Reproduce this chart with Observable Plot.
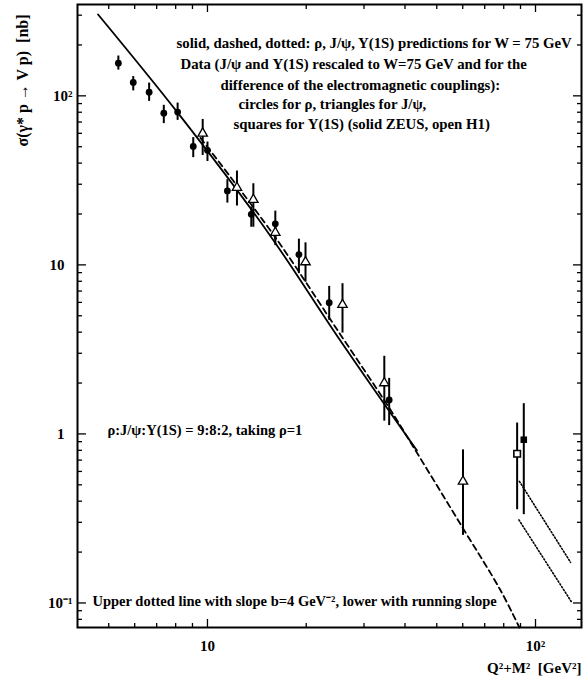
<!DOCTYPE html>
<html><head><meta charset="utf-8">
<script src="https://cdn.jsdelivr.net/npm/d3@7"></script>
<script src="https://cdn.jsdelivr.net/npm/@observablehq/plot@0.6"></script>
<style>body{margin:0;background:#fff} #chart svg{display:block;overflow:visible}</style>
</head><body><div id="chart"></div>
<script>
// rho data (filled circles)
const rhoX  = [5.35, 5.94, 6.64, 7.36, 8.11, 9.05, 10.0, 11.5, 13.6, 16.1, 19.0, 23.5, 35.8];
const rhoY  = [156, 120, 105, 79, 80.2, 50.2, 47.6, 27.4, 19.9, 17.5, 11.5, 5.97, 1.59];
const rhoLo = [142, 107, 92.7, 68.5, 71.6, 43.1, 40.9, 23.2, 16.7, 14.0, 8.87, 4.70, 1.12];
const rhoHi = [172, 130, 119, 87.9, 90.6, 56.6, 53.3, 31.9, 22.0, 20.8, 14.2, 7.46, 2.13];
// J/psi data (open triangles)
const jpsiX  = [9.67, 12.3, 13.8, 16.1, 19.9, 25.8, 34.6, 60.1];
const jpsiY  = [60, 28.6, 24.3, 15.5, 10.4, 5.81, 2.0, 0.524];
const jpsiLo = [44.4, 22.3, 16.7, 13.0, 7.9, 3.95, 1.19, 0.251];
const jpsiHi = [72.5, 35.9, 30.2, 17.8, 13.5, 7.74, 2.88, 0.805];
// Upsilon(1S): H1 (open), ZEUS (solid)
const upsH1   = {x: 87.9, y: 0.763, lo: 0.356, hi: 1.16};
const upsZEUS = {x: 92.1, y: 0.924, lo: 0.333, hi: 1.51};
// prediction curves
const rhoLineX = [4.64, 8.09, 15.9, 25.4, 43.5];
const rhoLineY = [303, 80.1, 13.96, 3.57, 0.798];
const jpsiLineX = [9.52, 16.0, 25.4, 35.7, 43.7, 59.8, 78.2, 89.3];
const jpsiLineY = [56.4, 14.8, 3.88, 1.44, 0.763, 0.281, 0.119, 0.0716];
const upsUpperX = [89.3, 127.9];
const upsUpperY = [0.524, 0.174];
const upsLowerX = [89.0, 128.5];
const upsLowerY = [0.31, 0.102];
// ticks
const xMajor = [10, 100];
const xMinor = [5, 6, 7, 8, 9, 20, 30, 40, 50, 60, 70, 80, 90];
const yMajor = [0.1, 1, 10, 100];
const yMinor = [0.08, 0.09, 0.2, 0.3, 0.4, 0.5, 0.6, 0.7, 0.8, 0.9, 2, 3, 4, 5, 6, 7, 8, 9, 20, 30, 40, 50, 60, 70, 80, 90, 200, 300];
const xTickLabels = {10: "10", 100: "10²"};
const yTickLabels = {0.1: "10⁻¹", 1: "1", 10: "10", 100: "10²"};
// texts
const noteLines = [
  "solid, dashed, dotted: ρ, J/ψ, Υ(1S) predictions for W = 75 GeV",
  "Data (J/ψ and Υ(1S) rescaled to W=75 GeV and for the",
  "difference of the electromagnetic couplings):",
  "circles for ρ, triangles for J/ψ,",
  "squares for Υ(1S) (solid ZEUS, open H1)"
];
const ratioNote = "ρ:J/ψ:Υ(1S) = 9:8:2, taking ρ=1";
const slopeNote = "Upper dotted line with slope b=4 GeV⁻², lower with running slope";
const xTitle = "Q²+M²  [GeV²]";
const yTitle = "σ(γ* p → V p)  [nb]";

const SERIF = "'Liberation Serif', 'Times New Roman', Times, serif";
const rows = (xs, ys, lo, hi) => xs.map((x, i) => ({x, y: ys[i], lo: lo[i], hi: hi[i]}));
const pts = (xs, ys) => xs.map((x, i) => ({x, y: ys[i]}));
const rho = rows(rhoX, rhoY, rhoLo, rhoHi);
const jpsi = rows(jpsiX, jpsiY, jpsiLo, jpsiHi);

const noteOffsets = [[99, 39], [103, 59.5], [143, 81], [161, 99.5], [156, 119.5]];
const noteMarks = noteLines.map((t, i) => Plot.text([t], {
  text: d => d, frameAnchor: "top-left", dx: noteOffsets[i][0], dy: noteOffsets[i][1],
  textAnchor: "start", lineAnchor: "middle", fontSize: 14.8, fontWeight: "bold"
}));

const chart = Plot.plot({
  width: 583, height: 683,
  marginLeft: 77, marginRight: 2, marginTop: 4, marginBottom: 56,
  style: {fontFamily: SERIF, fontWeight: "bold", background: "white", color: "black", overflow: "visible"},
  x: {type: "log", domain: [4.016, 138.1]},
  y: {type: "log", domain: [0.0716, 347]},
  marks: [
    Plot.line(pts(rhoLineX, rhoLineY), {x: "x", y: "y", stroke: "black", strokeWidth: 1.8, curve: "monotone-x"}),
    Plot.line(pts(jpsiLineX, jpsiLineY), {x: "x", y: "y", stroke: "black", strokeWidth: 1.8, strokeDasharray: "6,4", curve: "catmull-rom"}),
    Plot.line(pts(upsUpperX, upsUpperY), {x: "x", y: "y", stroke: "black", strokeWidth: 1.6, strokeDasharray: "1.3,2"}),
    Plot.line(pts(upsLowerX, upsLowerY), {x: "x", y: "y", stroke: "black", strokeWidth: 1.6, strokeDasharray: "1.3,2"}),
    Plot.ruleX(rho, {x: "x", y1: "lo", y2: "hi", stroke: "black", strokeWidth: 2}),
    Plot.ruleX(jpsi, {x: "x", y1: "lo", y2: "hi", stroke: "black", strokeWidth: 2}),
    Plot.ruleX([upsH1, upsZEUS], {x: "x", y1: "lo", y2: "hi", stroke: "black", strokeWidth: 2}),
    Plot.dot(rho, {x: "x", y: "y", r: 3.4, fill: "black"}),
    Plot.dot(jpsi, {x: "x", y: "y", symbol: "triangle", r: 3.5, fill: "white", stroke: "black", strokeWidth: 1.3}),
    Plot.dot([upsH1], {x: "x", y: "y", symbol: "square", r: 3.7, fill: "white", stroke: "black", strokeWidth: 1.6}),
    Plot.dot([upsZEUS], {x: "x", y: "y", symbol: "square", r: 3.7, fill: "black"}),
    Plot.frame({stroke: "black", strokeWidth: 2}),
    // inward ticks on all four sides
    Plot.axisX(xMajor, {anchor: "bottom", tickSize: -8, tickFormat: () => "", label: null, strokeWidth: 1.3}),
    Plot.axisX(xMinor, {anchor: "bottom", tickSize: -4, tickFormat: () => "", label: null, strokeWidth: 1.3}),
    Plot.axisX(xMajor, {anchor: "top", tickSize: -7, tickFormat: () => "", label: null, strokeWidth: 1.3}),
    Plot.axisX(xMinor, {anchor: "top", tickSize: -4, tickFormat: () => "", label: null, strokeWidth: 1.3}),
    Plot.axisY(yMajor, {anchor: "left", tickSize: -9, tickFormat: () => "", label: null, strokeWidth: 1.3}),
    Plot.axisY(yMinor, {anchor: "left", tickSize: -5, tickFormat: () => "", label: null, strokeWidth: 1.3}),
    Plot.axisY(yMajor, {anchor: "right", tickSize: -9, tickFormat: () => "", label: null, strokeWidth: 1.3}),
    Plot.axisY(yMinor, {anchor: "right", tickSize: -5, tickFormat: () => "", label: null, strokeWidth: 1.3}),
    // tick labels
    Plot.axisX(xMajor, {anchor: "bottom", tickSize: 0, tickPadding: 13, tickFormat: d => xTickLabels[d], label: null, fontSize: 15, fontWeight: "bold"}),
    Plot.axisY([1, 10], {anchor: "left", tickSize: 0, tickPadding: 13, tickFormat: d => yTickLabels[d], label: null, fontSize: 15, fontWeight: "bold"}),
    Plot.axisY([0.1, 100], {anchor: "left", tickSize: 0, tickPadding: 5, tickFormat: d => yTickLabels[d], label: null, fontSize: 15, fontWeight: "bold"}),
    // titles
    Plot.text([xTitle], {text: d => d, frameAnchor: "bottom-right", dy: 41, textAnchor: "end", lineAnchor: "middle", fontSize: 15, fontWeight: "bold"}),
    Plot.text([yTitle], {text: d => d, frameAnchor: "top-left", dx: -55, dy: 76, rotate: -90, textAnchor: "middle", lineAnchor: "middle", fontSize: 16, fontWeight: "bold"}),
    ...noteMarks,
    Plot.text([ratioNote], {text: d => d, frameAnchor: "top-left", dx: 30, dy: 426, textAnchor: "start", lineAnchor: "middle", fontSize: 14.5, fontWeight: "bold"}),
    Plot.text([slopeNote], {text: d => d, frameAnchor: "top-left", dx: 15, dy: 597, textAnchor: "start", lineAnchor: "middle", fontSize: 14.5, fontWeight: "bold"})
  ]
});
document.getElementById("chart").appendChild(chart);
</script>
</body></html>
